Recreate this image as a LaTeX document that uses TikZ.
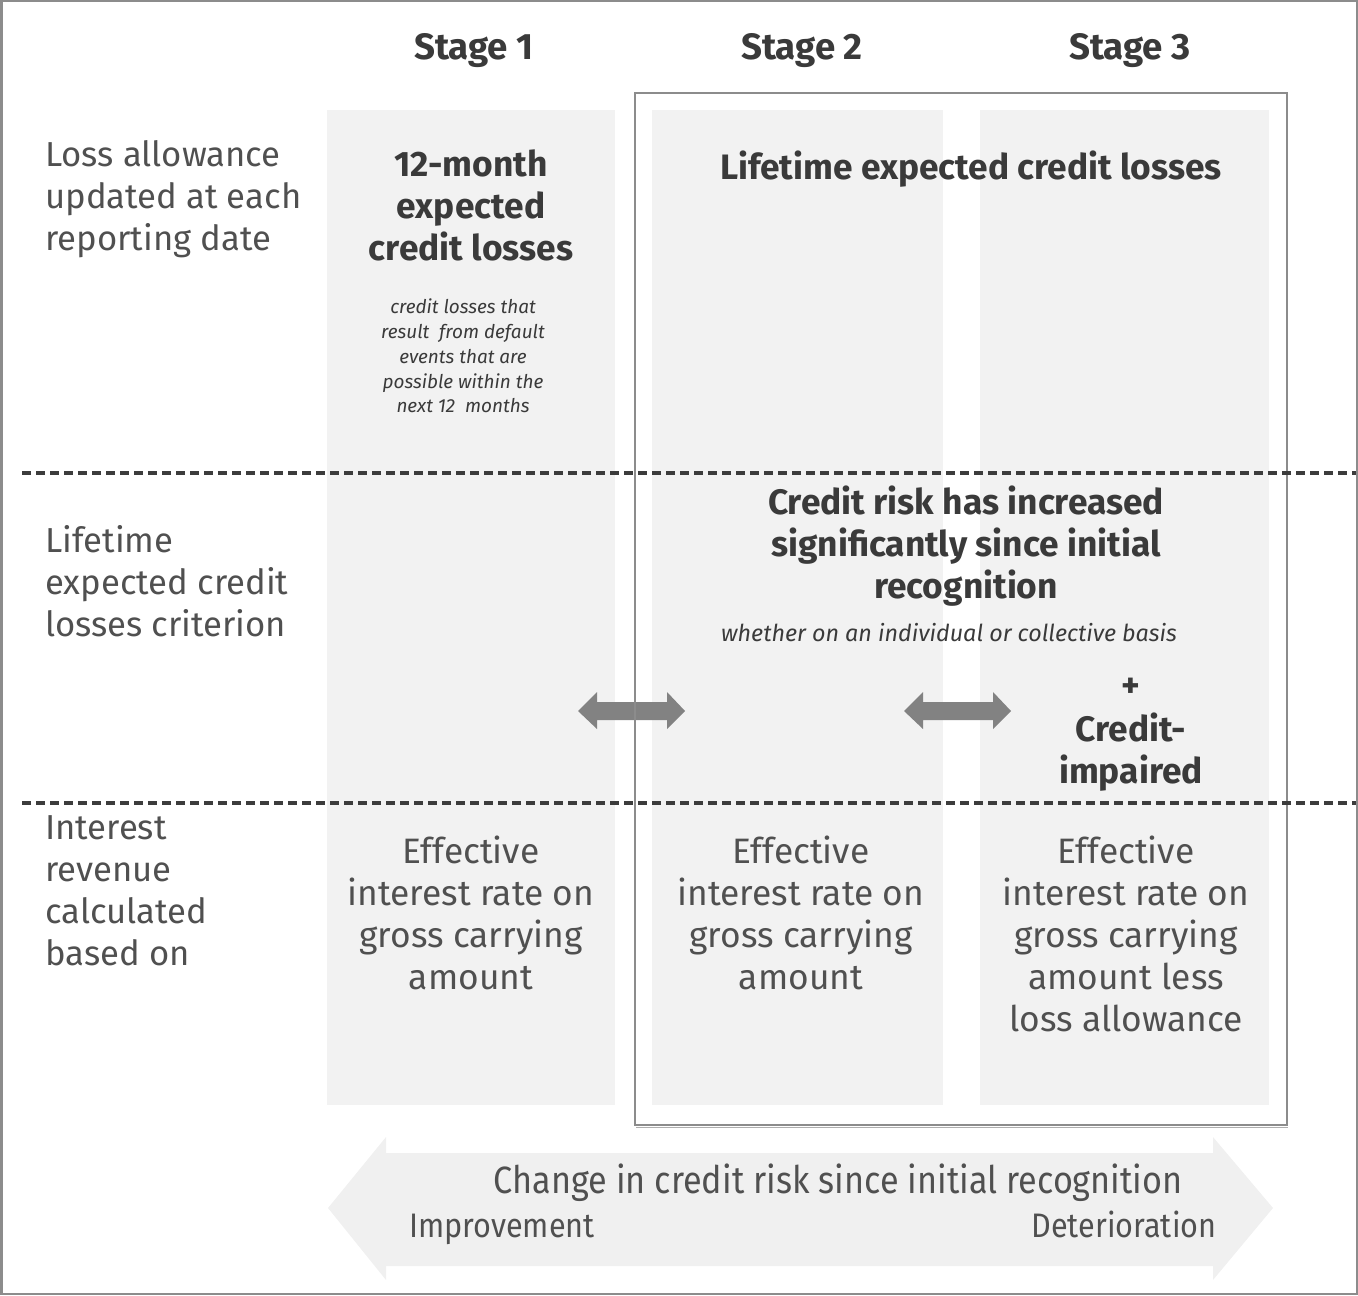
\documentclass[tikz,border=0pt]{standalone}
\usepackage{fontspec}
\setmainfont{Fira Sans}
\newfontfamily\narrowfont[FakeStretch=0.9]{Fira Sans}
\usepackage{xcolor}
\definecolor{colfill}{HTML}{F2F2F2}
\definecolor{bandfill}{HTML}{F0F0F0}
\definecolor{framegray}{HTML}{8C8C8C}
\definecolor{arrowgray}{HTML}{828282}
\definecolor{txtgray}{HTML}{505050}
\definecolor{boldgray}{HTML}{3A3A3A}
\definecolor{dashgray}{HTML}{3C3C3C}

\begin{document}
\begin{tikzpicture}[x=0.75pt,y=0.75pt,yscale=-1,xscale=1,
  rowlabel/.style={anchor=north west,inner sep=0pt,align=left,text=txtgray,
    font=\fontsize{26}{31.5}\selectfont},
  heading/.style={inner sep=0pt,align=center,text=boldgray,
    font=\fontsize{26.5}{31.5}\selectfont\bfseries},
  smallnote/.style={inner sep=0pt,align=center,text=boldgray,
    font=\fontsize{14.2}{18.6}\selectfont\itshape},
  rate/.style={anchor=north,inner sep=0pt,align=center,text=txtgray,
    font=\fontsize{26.5}{31.5}\selectfont},
  bandtext/.style={anchor=base,inner sep=0pt,text=txtgray},
  sep/.style={dashgray,line width=2.8pt,dash pattern=on 7pt off 3.5pt}]
\useasboundingbox (0,0) rectangle (1358,1295);

%Shape: Outer frame
\draw [framegray,line width=1.5pt] (1.5,1.5) rectangle (1356.5,1293.5);

%Shape: Stage columns
\fill [colfill] (327,110) rectangle (615,1105);
\fill [colfill] (652,110) rectangle (943,1105);
\fill [colfill] (980,110) rectangle (1269,1105);

%Shape: Small double arrows between the stages
\foreach \dx in {0,326}
  \fill [arrowgray,shift={(\dx,0)}] (578,711) -- (597,692) -- (597,702) -- (667,702) -- (667,692)
    -- (685,711) -- (667,729) -- (667,720) -- (597,720) -- (597,729) -- cycle ;

%Shape: Box round stages 2 and 3
\draw [framegray,line width=1.2pt] (635,93) rectangle (1287,1125);
\draw [framegray!70,line width=1pt] (636,1127.5) -- (1288,1127.5) ;

%Straight Lines: row separators
\draw [sep] (22,473) -- (1356,473) ;
\draw [sep] (22,803) -- (1356,803) ;

%Shape: Change in credit risk band
\fill [bandfill] (328,1208) -- (386,1137) -- (386,1153) -- (1213,1153) -- (1213,1137) -- (1273,1208)
  -- (1213,1280) -- (1213,1266) -- (386,1266) -- (386,1280) -- cycle ;

% Text Node: stage headings
\draw (474,51) node [heading,font=\fontsize{27.5}{31}\selectfont\bfseries] (stgone) {Stage 1};
\draw (802,51) node [heading,font=\fontsize{27.5}{31}\selectfont\bfseries] (stgtwo) {Stage 2};
\draw (1130,51) node [heading,font=\fontsize{27.5}{31}\selectfont\bfseries] (stgthree) {Stage 3};

% Text Node: row labels
\draw (45,140) node [rowlabel] (lossrow) {Loss allowance\\updated at each\\reporting date};
\draw (45,525) node [rowlabel] (critrow) {Lifetime\\expected credit\\losses criterion};
\draw (45,815) node [rowlabel] (introw) {Interest\\revenue\\calculated\\based on};

% Text Node: loss allowance row
\draw (471,205) node [heading] (twelvemonth) {12-month\\expected\\credit losses};
\draw (463,356) node [smallnote] (twelvenote) {credit losses that\\result \ from default\\events that are\\possible within the\\next 12 \ months};
\draw (971,169) node [heading] (lifetime) {Lifetime expected credit losses};

% Text Node: criterion row
\draw (966,546) node [heading] (sicr) {Credit risk has increased\\significantly since initial\\recognition};
\draw (949,633) node [smallnote,font=\fontsize{17.5}{20}\selectfont\itshape] (basis) {whether on an individual or collective basis};
\draw (1131,735) node [heading] (impaired) {+\\[1.5pt]Credit-\\impaired};

% Text Node: interest revenue row
\draw (471,836) node [rate] (rateone) {Effective\\interest rate on\\gross carrying\\amount};
\draw (801,836) node [rate] (ratetwo) {Effective\\interest rate on\\gross carrying\\amount};
\draw (1126,836) node [rate] (ratethree) {Effective\\interest rate on\\gross carrying\\amount less\\loss allowance};

% Text Node: band labels
\draw (838,1193) node [bandtext,font=\narrowfont\fontsize{28.5}{32}\selectfont] (change) {Change in credit risk since initial recognition};
\draw (502,1237) node [bandtext,font=\narrowfont\fontsize{25.5}{28}\selectfont] (improve) {Improvement};
\draw (1124,1237) node [bandtext,font=\narrowfont\fontsize{25.5}{28}\selectfont] (deteriorate) {Deterioration};

\end{tikzpicture}
\end{document}
